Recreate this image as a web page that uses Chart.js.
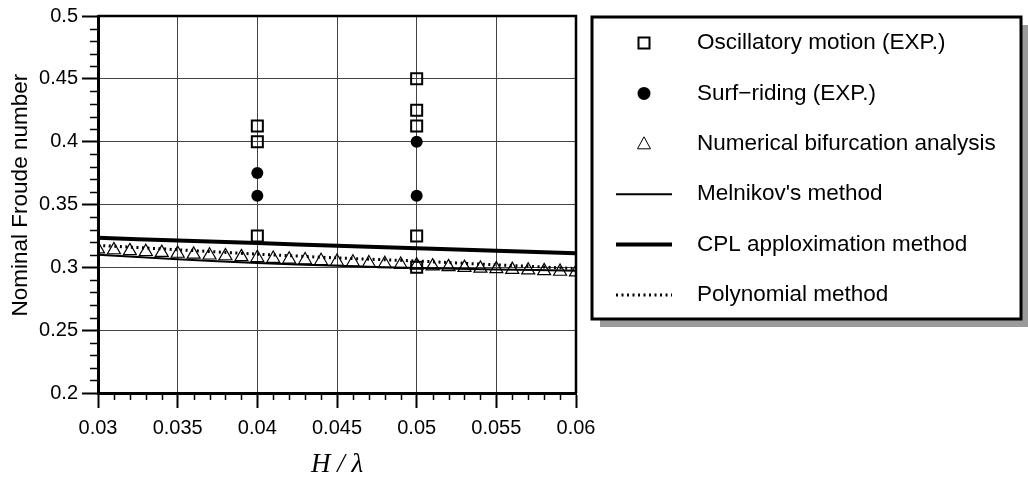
<!DOCTYPE html>
<html><head><meta charset="utf-8">
<script src="https://cdn.jsdelivr.net/npm/chart.js@4/dist/chart.umd.min.js"></script>
<style>html,body{margin:0;padding:0;background:#fff;}#wrap{width:1028px;height:481px;position:relative;}</style>
</head><body><div id="wrap"><canvas id="c" width="1028" height="481"></canvas></div>
<script>
// ---- data ----
const oscX = [0.04, 0.04, 0.04, 0.05, 0.05, 0.05, 0.05, 0.05];
const oscY = [0.4125, 0.4, 0.325, 0.45, 0.425, 0.4125, 0.325, 0.3];
const surfX = [0.04, 0.04, 0.05, 0.05];
const surfY = [0.375, 0.357, 0.4, 0.357];
const bifX = [0.030, 0.031, 0.032, 0.033, 0.034, 0.035, 0.036, 0.037, 0.038, 0.039, 0.040,
              0.041, 0.042, 0.043, 0.044, 0.045, 0.046, 0.047, 0.048, 0.049, 0.050,
              0.051, 0.052, 0.053, 0.054, 0.055, 0.056, 0.057, 0.058, 0.059, 0.060];
const bifY = [0.3145, 0.3138, 0.3131, 0.3124, 0.3117, 0.3110, 0.3103, 0.3096, 0.3090, 0.3083, 0.3076,
              0.3070, 0.3064, 0.3058, 0.3052, 0.3046, 0.3040, 0.3034, 0.3028, 0.3022, 0.3016,
              0.3010, 0.3004, 0.2998, 0.2992, 0.2987, 0.2982, 0.2977, 0.2972, 0.2967, 0.2962];
const lineX = [0.03, 0.035, 0.04, 0.045, 0.05, 0.055, 0.06];
const melnikovY = [0.3100, 0.3065, 0.3035, 0.3012, 0.2995, 0.2983, 0.2973];
const cplY = [0.3235, 0.3213, 0.3193, 0.3172, 0.3152, 0.3132, 0.3112];
const polyY = [0.3175, 0.3140, 0.3105, 0.3075, 0.3050, 0.3020, 0.2990];
const seriesLabels = ['Oscillatory motion (EXP.)', 'Surf\u2212riding (EXP.)', 'Numerical bifurcation analysis',
                      "Melnikov's method", 'CPL apploximation method', 'Polynomial method'];
const xTicks = [0.03, 0.035, 0.04, 0.045, 0.05, 0.055, 0.06];
const xTickLabels = ['0.03', '0.035', '0.04', '0.045', '0.05', '0.055', '0.06'];
const yTicks = [0.2, 0.25, 0.3, 0.35, 0.4, 0.45, 0.5];
const yTickLabels = ['0.2', '0.25', '0.3', '0.35', '0.4', '0.45', '0.5'];
const xMinorStep = 0.001, yMinorStep = 0.01;

const pts = (xs, ys) => xs.map((x, i) => ({x: x, y: ys[i]}));
const FONT = "'Liberation Sans', Arial, sans-serif";

const frameAndMinor = {
  id: 'frameAndMinor',
  afterDraw(chart) {
    const ctx = chart.ctx, a = chart.chartArea;
    const xs = chart.scales.x, ys = chart.scales.y;
    ctx.save();
    ctx.strokeStyle = '#000';
    ctx.lineWidth = 2.5;
    ctx.beginPath();
    ctx.moveTo(a.left, a.top); ctx.lineTo(a.right, a.top); ctx.lineTo(a.right, a.bottom);
    ctx.stroke();
    ctx.lineWidth = 1.5;
    ctx.beginPath();
    for (let k = 1; k < Math.round((ys.max - ys.min) / yMinorStep); k++) {
      if (k % 5 === 0) continue;
      const y = Math.round(ys.getPixelForValue(ys.min + k * yMinorStep)) + 0.5;
      ctx.moveTo(a.left - 8, y); ctx.lineTo(a.left, y);
    }
    for (let k = 1; k < Math.round((xs.max - xs.min) / xMinorStep); k++) {
      if (k % 5 === 0) continue;
      const x = Math.round(xs.getPixelForValue(xs.min + k * xMinorStep)) + 0.5;
      ctx.moveTo(x, a.bottom); ctx.lineTo(x, a.bottom + 7);
    }
    ctx.stroke();
    ctx.restore();
  }
};

const boxLegend = {
  id: 'boxLegend',
  afterDraw(chart) {
    const ctx = chart.ctx;
    const L = 592, T = 17, R = 1021, B = 319, sh = 8;
    ctx.save();
    ctx.fillStyle = '#9a9a9a';
    ctx.fillRect(L + sh, T + sh, R - L, B - T);
    ctx.fillStyle = '#fff';
    ctx.fillRect(L, T, R - L, B - T);
    ctx.lineWidth = 3;
    ctx.strokeStyle = '#000';
    ctx.strokeRect(L, T, R - L, B - T);
    const symX = 644, textX = 697, rowY0 = 43, rowH = 50.4;
    ctx.font = '22.5px ' + FONT;
    ctx.textBaseline = 'middle';
    ctx.textAlign = 'left';
    chart.data.datasets.forEach((ds, i) => {
      const y = rowY0 + i * rowH;
      ctx.fillStyle = '#000';
      ctx.fillText(ds.label, textX, y);
      ctx.strokeStyle = '#000';
      ctx.fillStyle = '#000';
      if (ds.showLine) {
        ctx.lineWidth = ds.borderWidth;
        ctx.setLineDash(ds.borderDash || []);
        ctx.beginPath(); ctx.moveTo(616, y); ctx.lineTo(672, y); ctx.stroke();
        ctx.setLineDash([]);
      } else if (ds.pointStyle === 'rect') {
        ctx.lineWidth = 2;
        ctx.strokeRect(symX - 5.5, y - 5.5, 11, 11);
      } else if (ds.pointStyle === 'circle') {
        ctx.beginPath(); ctx.arc(symX, y, 6.5, 0, Math.PI * 2); ctx.fill();
      } else if (ds.pointStyle === 'triangle') {
        ctx.lineWidth = 1;
        ctx.beginPath();
        ctx.moveTo(symX, y - 7); ctx.lineTo(symX + 6.5, y + 5); ctx.lineTo(symX - 6.5, y + 5); ctx.closePath();
        ctx.stroke();
      }
    });
    ctx.restore();
  }
};

new Chart(document.getElementById('c'), {
  type: 'scatter',
  data: {
    datasets: [
      {label: seriesLabels[0], data: pts(oscX, oscY), pointStyle: 'rect', pointRadius: 7.8,
       pointBorderWidth: 2, pointBorderColor: '#000', pointBackgroundColor: 'rgba(0,0,0,0)', showLine: false},
      {label: seriesLabels[1], data: pts(surfX, surfY), pointStyle: 'circle', pointRadius: 6,
       pointBorderWidth: 0, pointBorderColor: '#000', pointBackgroundColor: '#000', showLine: false},
      {label: seriesLabels[2], data: pts(bifX, bifY), pointStyle: 'triangle', pointRadius: 7.5,
       pointBorderWidth: 1.2, pointBorderColor: '#000', pointBackgroundColor: 'rgba(0,0,0,0)', showLine: false},
      {label: seriesLabels[3], data: pts(lineX, melnikovY), showLine: true, borderColor: '#000', borderWidth: 2,
       pointRadius: 0, tension: 0.3},
      {label: seriesLabels[4], data: pts(lineX, cplY), showLine: true, borderColor: '#000', borderWidth: 4,
       pointRadius: 0, tension: 0.3},
      {label: seriesLabels[5], data: pts(lineX, polyY), showLine: true, borderColor: '#000', borderWidth: 3,
       borderDash: [2, 3.5], pointRadius: 0, tension: 0.3}
    ]
  },
  options: {
    responsive: false,
    animation: false,
    devicePixelRatio: 1,
    layout: {padding: {left: 0, top: 16, right: 452, bottom: 0}},
    plugins: {legend: {display: false}, tooltip: {enabled: false}},
    scales: {
      x: {
        type: 'linear', min: 0.03, max: 0.06,
        afterBuildTicks: s => { s.ticks = xTicks.map(v => ({value: v})); },
        afterFit: s => { s.height = 88; },
        ticks: {callback: (v, i) => xTickLabels[i], color: '#000', font: {family: FONT, size: 20}, padding: 8, maxRotation: 0},
        grid: {color: '#444', lineWidth: 1, tickLength: 15, tickColor: '#000', tickWidth: 2, drawTicks: true},
        border: {display: true, color: '#000', width: 3},
        title: {display: true, text: 'H / \u03BB', color: '#000',
                font: {family: "'Liberation Serif', 'Times New Roman', serif", size: 27, style: 'italic'},
                padding: {top: 0, bottom: 0}}
      },
      y: {
        type: 'linear', min: 0.2, max: 0.5,
        afterBuildTicks: s => { s.ticks = yTicks.map(v => ({value: v})); },
        afterFit: s => { s.width = 98; },
        ticks: {callback: (v, i) => yTickLabels[i], color: '#000', font: {family: FONT, size: 20}, padding: 4},
        grid: {color: '#444', lineWidth: 1, tickLength: 16, tickColor: '#000', tickWidth: 2, drawTicks: true},
        border: {display: true, color: '#000', width: 3},
        title: {display: true, text: '\u00A0\u00A0\u00A0Nominal Froude number', color: '#000',
                font: {family: FONT, size: 22.5}, padding: {top: 7.5, bottom: 0}}
      }
    }
  },
  plugins: [frameAndMinor, boxLegend]
});
</script></body></html>
